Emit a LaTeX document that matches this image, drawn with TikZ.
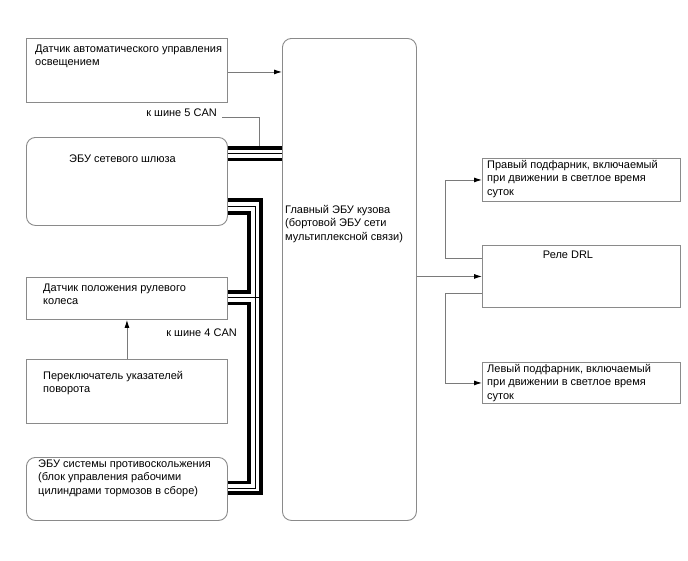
\documentclass[tikz,border=0pt]{standalone}
\usepackage{fontspec}
\setmainfont{Liberation Sans}
\usetikzlibrary{arrows.meta}
\definecolor{boxgray}{HTML}{8A8A8A}
\definecolor{linegray}{HTML}{7A7A7A}
\tikzset{
  box/.style={draw=boxgray, line width=0.9pt, rectangle, inner sep=0pt, anchor=north west},
  rbox/.style={box, rounded corners=9pt},
  txt/.style={font=\fontsize{11}{13.8}\selectfont, align=left, anchor=base west, inner sep=0pt},
  conn/.style={draw=linegray, line width=0.9pt},
  arr/.style={conn, -{Latex[length=8pt,width=5pt,color=black]}},
  busthick/.style={draw=black, line width=3.6pt, line join=miter, line cap=butt},
  busthin/.style={draw=black, line width=0.9pt, line join=miter},
}
\begin{document}
\begin{tikzpicture}[x=1pt,y=-1pt]
\useasboundingbox[fill=white] (0,0) rectangle (688,560);

% boxes
\node[box, minimum width=201pt, minimum height=64pt] (auto) at (26,38) {};
\node[rbox, minimum width=201pt, minimum height=88pt] (gw) at (26,137) {};
\node[box, minimum width=201pt, minimum height=42pt] (steer) at (26,277) {};
\node[box, minimum width=201pt, minimum height=64pt] (turn) at (26,359) {};
\node[rbox, minimum width=201pt, minimum height=63pt] (abs) at (26,457) {};
\node[rbox, minimum width=134pt, minimum height=482pt] (main) at (282,38) {};
\node[box, minimum width=198pt, minimum height=43pt] (rmark) at (482,158) {};
\node[box, minimum width=198pt, minimum height=62pt] (drl) at (482,245) {};
\node[box, minimum width=198pt, minimum height=41pt] (lmark) at (482,362) {};

% texts (base anchor = baseline of the last line)
\node[txt] (auto-t) at (35,65.8) {Датчик автоматического управления\\освещением};
\node[txt] (gw-t) at (69,162) {ЭБУ сетевого шлюза};
\node[txt] (steer-t) at (43,304.8) {Датчик положения рулевого\\колеса};
\node[txt] (turn-t) at (43,392.8) {Переключатель указателей\\поворота};
\node[txt] (abs-t) at (38,494.6) {ЭБУ системы противоскольжения\\(блок управления рабочими\\цилиндрами тормозов в сборе)};
\node[txt] (main-t) at (285,240.6) {Главный ЭБУ кузова\\(бортовой ЭБУ сети\\мультиплексной связи)};
\node[txt] (rmark-t) at (487,195.6) {Правый подфарник, включаемый\\при движении в светлое время\\суток};
\node[txt, anchor=base] (drl-t) at (568,258) {Реле DRL};
\node[txt] (lmark-t) at (487,399.6) {Левый подфарник, включаемый\\при движении в светлое время\\суток};
\node[txt, anchor=base east] (can5) at (217,116) {к шине 5 CAN};
\node[txt, anchor=base east] (can4) at (237,336) {к шине 4 CAN};

% simple connectors
\draw[arr] ([yshift=-1.5pt]auto.east) -- ([yshift=-1.5pt]auto.east -| main.west);
\draw[arr] (turn.north) -- (steer.south);
\draw[arr] (main.east |- drl.west) -- (drl.west);
\draw[arr] ([yshift=18pt]drl.west) -- ++(-37,0) |- (rmark.west);
\draw[arr] ([yshift=-17pt]drl.west) -- ++(-37,0) |- (lmark.west);

% CAN 5 bus (gateway -> main)
\draw[conn] ([xshift=5pt]can5.east |- 0,117) -- (259,117) -- (259,148);
\draw[busthick] (gw.east |- 0,148) -- (main.west |- 0,148);
\draw[busthin] (gw.east |- 0,153.5) -- (main.west |- 0,153.5);
\draw[busthick] (gw.east |- 0,159.5) -- (main.west |- 0,159.5);

% CAN 4 bus (gateway -> steering, ABS)
\draw[busthick] (gw.east |- 0,200) -- (261,200) -- (261,493) -- (abs.east |- 0,493);
\draw[busthin] (gw.east |- 0,206.5) -- (255,206.5) -- (255,488) -- (abs.east |- 0,488);
\draw[busthin] (steer.east |- 0,297.5) -- (261,297.5);
\draw[busthick] (gw.east |- 0,213) -- (249,213) -- (249,292) -- (steer.east |- 0,292);
\draw[busthick] (steer.east |- 0,303.5) -- (249,303.5) -- (249,482.5) -- (abs.east |- 0,482.5);
\end{tikzpicture}
\end{document}
